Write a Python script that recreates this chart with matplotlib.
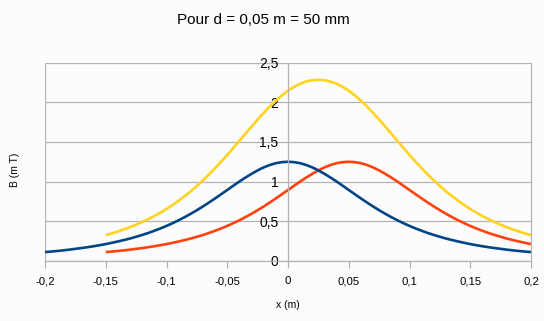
import matplotlib
matplotlib.use("Agg")
import matplotlib.pyplot as plt
import numpy as np

plt.rcParams['font.family'] = ['Liberation Sans', 'DejaVu Sans']

x_blue = np.round(np.linspace(-0.20, 0.20, 81), 3)
b_blue = [0.112, 0.119, 0.126, 0.134, 0.143, 0.153, 0.163, 0.174, 0.186, 0.199,
          0.213, 0.229, 0.246, 0.264, 0.283, 0.305, 0.328, 0.353, 0.381, 0.410,
          0.442, 0.476, 0.513, 0.553, 0.595, 0.640, 0.687, 0.737, 0.788, 0.841,
          0.894, 0.948, 1.001, 1.051, 1.098, 1.141, 1.179, 1.209, 1.232, 1.245,
          1.250,
          1.245, 1.232, 1.209, 1.179, 1.141, 1.098, 1.051, 1.001, 0.948, 0.894,
          0.841, 0.788, 0.737, 0.687, 0.640, 0.595, 0.553, 0.513, 0.476, 0.442,
          0.410, 0.381, 0.353, 0.328, 0.305, 0.283, 0.264, 0.246, 0.229, 0.213,
          0.199, 0.186, 0.174, 0.163, 0.153, 0.143, 0.134, 0.126, 0.119, 0.112]

x_red = np.round(np.linspace(-0.15, 0.20, 71), 3)
b_red = [0.112, 0.119, 0.126, 0.134, 0.143, 0.153, 0.163, 0.174, 0.186, 0.199,
         0.213, 0.229, 0.246, 0.264, 0.283, 0.305, 0.328, 0.353, 0.381, 0.410,
         0.442, 0.476, 0.513, 0.553, 0.595, 0.640, 0.687, 0.737, 0.788, 0.841,
         0.894, 0.948, 1.001, 1.051, 1.098, 1.141, 1.179, 1.209, 1.232, 1.245,
         1.250,
         1.245, 1.232, 1.209, 1.179, 1.141, 1.098, 1.051, 1.001, 0.948, 0.894,
         0.841, 0.788, 0.737, 0.687, 0.640, 0.595, 0.553, 0.513, 0.476, 0.442,
         0.410, 0.381, 0.353, 0.328, 0.305, 0.283, 0.264, 0.246, 0.229, 0.213]

x_yellow = x_red
b_yellow = [0.325, 0.348, 0.372, 0.398, 0.426, 0.458, 0.491, 0.527, 0.567, 0.609,
            0.655, 0.705, 0.759, 0.817, 0.878, 0.945, 1.015, 1.090, 1.169, 1.251,
            1.336, 1.424, 1.514, 1.604, 1.693, 1.781, 1.866, 1.946, 2.020, 2.086,
            2.144, 2.193, 2.233, 2.260, 2.277, 2.282, 2.277, 2.260, 2.233, 2.193,
            2.144, 2.086, 2.020, 1.946, 1.866, 1.781, 1.693, 1.604, 1.514, 1.424,
            1.336, 1.251, 1.169, 1.090, 1.015, 0.945, 0.878, 0.817, 0.759, 0.705,
            0.655, 0.609, 0.567, 0.527, 0.491, 0.458, 0.426, 0.398, 0.372, 0.348,
            0.325]

x_ticks = [-0.2, -0.15, -0.1, -0.05, 0, 0.05, 0.1, 0.15, 0.2]
x_ticklabels = ["-0,2", "-0,15", "-0,1", "-0,05", "0", "0,05", "0,1", "0,15", "0,2"]
y_ticks = [0, 0.5, 1, 1.5, 2, 2.5]
y_ticklabels = ["0", "0,5", "1", "1,5", "2", "2,5"]

bg = "#FCFCFC"
grid = "#B3B3B3"

fig = plt.figure(figsize=(5.44, 3.21), dpi=100, facecolor=bg)
ax = fig.add_axes([45/544, 1-261/321, (531-45)/544, (261-62.5)/321])
ax.set_facecolor(bg)

ax.plot(x_yellow, b_yellow, color="#FFD320", lw=1.9, solid_capstyle='butt')
ax.plot(x_red, b_red, color="#FF420E", lw=1.9, solid_capstyle='butt')
ax.plot(x_blue, b_blue, color="#004586", lw=1.9, solid_capstyle='butt')

ax.set_xlim(-0.2, 0.2)
ax.set_ylim(0, 2.5)
ax.set_xticks(x_ticks)
ax.set_xticklabels(x_ticklabels, fontsize=8.2)
ax.set_yticks(y_ticks)
ax.set_yticklabels(y_ticklabels, fontsize=8.2)

ax.grid(axis='y', color=grid, lw=0.9)
ax.set_axisbelow(True)

ax.spines['top'].set_visible(False)
ax.spines['left'].set_position(('data', 0))
for s in ['left', 'right', 'bottom']:
    ax.spines[s].set_color(grid)
    ax.spines[s].set_linewidth(0.9)
ax.axvline(-0.2, color=grid, lw=0.9, zorder=0.5)

ax.tick_params(axis='x', direction='out', length=5, width=0.9, color=grid, pad=6)
ax.tick_params(axis='y', length=0, pad=7)

fig.text(263/544, 1-20/321, "Pour d = 0,05 m = 50 mm", ha='center', va='center', fontsize=11)
fig.text(288/544, 1-305/321, "x (m)", ha='center', va='center', fontsize=7.5)
fig.text(15/544, 1-170/321, "B (m T)", ha='center', va='center', fontsize=7.5, rotation=90)

fig.savefig("out.png", dpi=100, facecolor=bg)
